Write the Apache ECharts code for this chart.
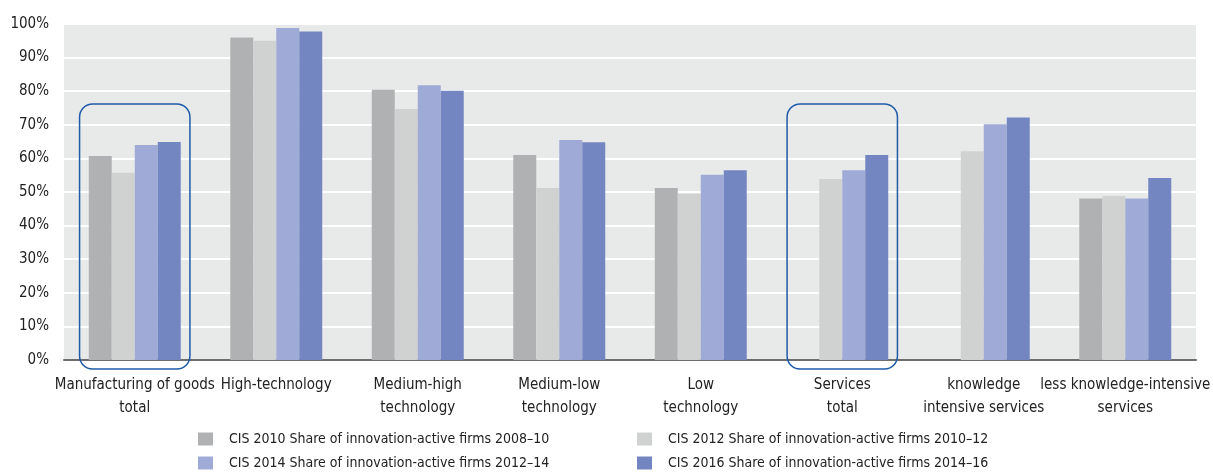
<!DOCTYPE html>
<html>
<head>
<meta charset="utf-8">
<script src="https://cdn.jsdelivr.net/npm/echarts@6/dist/echarts.min.js"></script>
<style>
  html, body { margin: 0; padding: 0; background: #fff; }
  #chart { width: 1213px; height: 472px; }
</style>
</head>
<body>
<div id="chart"></div>
<script>
  // categories on the x axis
  const categories = [
    'Manufacturing of goods\ntotal',
    'High-technology',
    'Medium-high\ntechnology',
    'Medium-low\ntechnology',
    'Low\ntechnology',
    'Services\ntotal',
    'knowledge\nintensive services',
    'less knowledge-intensive\nservices'
  ];

  // series names
  const names = [
    'CIS 2010 Share of innovation-active firms 2008–10',
    'CIS 2012 Share of innovation-active firms 2010–12',
    'CIS 2014 Share of innovation-active firms 2012–14',
    'CIS 2016 Share of innovation-active firms 2014–16'
  ];

  // values in percent (null = no value)
  const cis2010 = [60.7, 96.0, 80.4, 61.0, 51.2, null, null, 48.1];
  const cis2012 = [55.7, 95.0, 74.7, 51.2, 49.5, 53.9, 62.1, 48.8];
  const cis2014 = [64.0, 98.8, 81.8, 65.5, 55.1, 56.5, 70.2, 48.1];
  const cis2016 = [64.9, 97.8, 80.1, 64.8, 56.5, 61.0, 72.2, 54.2];

  // highlighted groups (rounded boxes)
  const boxed = [0, 5];

  const colors = ['#b0b1b3', '#d0d2d2', '#a0aad6', '#7386c2'];
  const font = '"Liberation Sans Narrow", "DejaVu Sans Condensed", sans-serif';

  // legend slots: [left, top] for each series
  const legendPos = [[198, 432], [637, 432], [198, 456], [637, 456]];

  const chart = echarts.init(document.getElementById('chart'));

  function bar(name, data, i) {
    return {
      name: name,
      type: 'bar',
      data: data,
      barGap: 0,
      barCategoryGap: '35%',
      itemStyle: { color: colors[i] },
      emphasis: { disabled: true }
    };
  }

  const option = {
    animation: false,
    textStyle: { fontFamily: font },
    grid: {
      left: 64, right: 13, top: 24, bottom: 112,
      show: true, backgroundColor: '#e8eaea', borderWidth: 0
    },
    legend: names.map(function (n, i) {
      return {
        left: legendPos[i][0], top: legendPos[i][1],
        padding: 0,
        itemWidth: 15, itemHeight: 13,
        data: [n],
        icon: 'rect',
        textStyle: { fontFamily: font, fontSize: 14, color: '#222', padding: [0, 0, 0, 11] }
      };
    }),
    xAxis: {
      type: 'category',
      data: categories,
      axisTick: { show: false },
      axisLine: { lineStyle: { color: '#6d6d6d', width: 2 } },
      axisLabel: {
        interval: 0, margin: 14, fontSize: 15, lineHeight: 23,
        color: '#222', fontFamily: font
      }
    },
    yAxis: {
      type: 'value',
      min: 0, max: 100, interval: 10,
      axisLine: { show: false },
      axisTick: { show: false },
      splitLine: { lineStyle: { color: '#ffffff', width: 2 } },
      axisLabel: {
        formatter: '{value}%', margin: 15, fontSize: 15,
        color: '#222', fontFamily: font
      }
    },
    series: [
      bar(names[0], cis2010, 0),
      bar(names[1], cis2012, 1),
      bar(names[2], cis2014, 2),
      bar(names[3], cis2016, 3)
    ]
  };

  chart.setOption(option);

  // rounded boxes around the "total" groups
  const x0 = chart.convertToPixel({ xAxisIndex: 0 }, 0);
  const x1 = chart.convertToPixel({ xAxisIndex: 0 }, 1);
  const band = x1 - x0;
  const yTop = chart.convertToPixel({ yAxisIndex: 0 }, 76.2);
  const yBase = chart.convertToPixel({ yAxisIndex: 0 }, 0);
  const half = band * 0.39;

  chart.setOption({
    graphic: boxed.map(function (idx) {
      const cx = chart.convertToPixel({ xAxisIndex: 0 }, idx);
      return {
        type: 'rect',
        z: 100,
        shape: { x: cx - half, y: yTop, width: half * 2, height: yBase + 9 - yTop, r: 13 },
        style: { fill: 'none', stroke: '#1f5aa8', lineWidth: 1.5 }
      };
    })
  });
</script>
</body>
</html>
